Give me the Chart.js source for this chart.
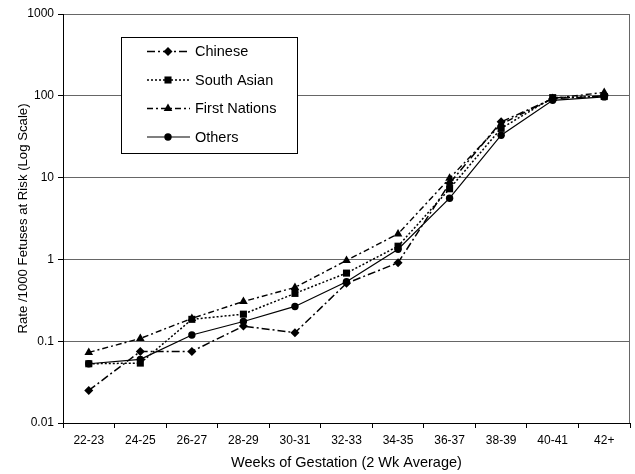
<!DOCTYPE html>
<html>
<head>
<meta charset="utf-8">
<script src="https://cdn.jsdelivr.net/npm/chart.js@4.4.0/dist/chart.umd.min.js"></script>
<style>
  body { margin: 0; background: #fff; }
  #wrap { width: 635px; height: 474px; }
</style>
</head>
<body>
<div id="wrap"><canvas id="chart" width="635" height="474"></canvas></div>
<script>
const weeks = ['22-23', '24-25', '26-27', '28-29', '30-31', '32-33', '34-35', '36-37', '38-39', '40-41', '42+'];
const chinese = [0.025, 0.075, 0.075, 0.153, 0.127, 0.51, 0.91, 8.5, 48, 92, 100];
const southAsian = [0.053, 0.054, 0.185, 0.214, 0.384, 0.68, 1.45, 7.3, 40, 95, 98];
const firstNations = [0.073, 0.108, 0.19, 0.306, 0.454, 0.97, 2.05, 9.8, 45, 93, 110];
const others = [0.053, 0.06, 0.119, 0.174, 0.266, 0.533, 1.33, 5.6, 33, 88, 97];
const yTicks = [0.01, 0.1, 1, 10, 100, 1000];
const yTickLabels = ['0.01', '0.1', '1', '10', '100', '1000'];

const FONT = "'Liberation Sans', Arial, sans-serif";
Chart.defaults.font.family = FONT;
Chart.defaults.color = '#000';

function series(label, data, dash, width, style, r) {
    return {
        label: label,
        data: data,
        borderColor: '#000',
        backgroundColor: '#000',
        borderWidth: width,
        borderDash: dash,
        pointStyle: style,
        pointRadius: r,
        pointBorderWidth: 0,
        pointBackgroundColor: '#000',
        tension: 0
    };
}

// draws one marker for the legend box
function marker(ctx, style, x, y, r) {
    ctx.beginPath();
    if (style === 'rectRot') {
        ctx.moveTo(x, y - r); ctx.lineTo(x + r, y); ctx.lineTo(x, y + r); ctx.lineTo(x - r, y);
    } else if (style === 'rect') {
        const s = r * Math.SQRT1_2;
        ctx.rect(x - s, y - s, 2 * s, 2 * s);
    } else if (style === 'triangle') {
        ctx.moveTo(x, y - r);
        ctx.lineTo(x + r * 0.866, y + r * 0.5);
        ctx.lineTo(x - r * 0.866, y + r * 0.5);
    } else {
        ctx.arc(x, y, r, 0, Math.PI * 2);
    }
    ctx.closePath();
    ctx.fill();
}

const frame = {
    id: 'frame',
    beforeDatasetsDraw(chart) {
        const a = chart.chartArea, ctx = chart.ctx;
        ctx.save();
        ctx.strokeStyle = '#666';
        ctx.lineWidth = 1;
        ctx.beginPath();
        ctx.moveTo(a.right - 0.5, a.top);
        ctx.lineTo(a.right - 0.5, a.bottom);
        ctx.stroke();
        ctx.restore();
    }
};

const boxLegend = {
    id: 'boxLegend',
    afterDraw(chart) {
        const ctx = chart.ctx;
        ctx.save();
        ctx.fillStyle = '#fff';
        ctx.fillRect(121.5, 37.5, 176, 116);
        ctx.strokeStyle = '#000';
        ctx.lineWidth = 1;
        ctx.setLineDash([]);
        ctx.strokeRect(121.5, 37.5, 176, 116);
        const rows = [51.5, 80, 108.5, 137];
        chart.data.datasets.forEach((ds, i) => {
            const y = rows[i];
            ctx.strokeStyle = '#000';
            ctx.lineWidth = ds.borderWidth;
            ctx.setLineDash(ds.borderDash || []);
            ctx.beginPath();
            ctx.moveTo(147, y);
            ctx.lineTo(190, y);
            ctx.stroke();
            ctx.setLineDash([]);
            ctx.fillStyle = '#000';
            marker(ctx, ds.pointStyle, 168, y, ds.pointRadius);
            ctx.font = '14.5px ' + FONT;
            ctx.textBaseline = 'middle';
            ctx.textAlign = 'left';
            ctx.fillText(ds.label, 195, y + 0.5);
        });
        ctx.restore();
    }
};

new Chart(document.getElementById('chart'), {
    type: 'line',
    data: {
        labels: weeks,
        datasets: [
            series('Chinese', chinese, [8, 3, 2, 3], 1.5, 'rectRot', 4.5),
            series('South Asian', southAsian, [2, 2], 1.5, 'rect', 5),
            series('First Nations', firstNations, [6, 3, 2, 3], 1.4, 'triangle', 5),
            series('Others', others, [], 1.2, 'circle', 3.7)
        ]
    },
    options: {
        responsive: false,
        animation: false,
        layout: { padding: { top: 14, right: 1, bottom: 0, left: 0 } },
        plugins: {
            legend: { display: false },
            tooltip: { enabled: false }
        },
        scales: {
            x: {
                type: 'category',
                offset: true,
                grid: { offset: true, drawOnChartArea: false, drawTicks: true, tickLength: 5, tickColor: '#000' },
                border: { color: '#000', width: 1 },
                ticks: { padding: 5, maxRotation: 0, autoSkip: false, font: { size: 12 } },
                title: {
                    display: true,
                    text: 'Weeks of Gestation (2 Wk Average)',
                    font: { size: 14.5 },
                    padding: { top: 0, bottom: 2 }
                },
                afterFit: s => { s.height = 51; }
            },
            y: {
                type: 'logarithmic',
                min: 0.01,
                max: 1000,
                afterBuildTicks: s => { s.ticks = yTicks.map(v => ({ value: v })); },
                grid: { color: '#666', tickColor: '#000', tickLength: 5 },
                border: { color: '#000', width: 1 },
                ticks: {
                    padding: 4,
                    font: { size: 12 },
                    callback: (v, i) => yTickLabels[i]
                },
                title: {
                    display: true,
                    text: 'Rate /1000 Fetuses at Risk (Log Scale)',
                    font: { size: 13.2 },
                    padding: { top: 15, bottom: 0 }
                },
                afterFit: s => { s.width = 63; }
            }
        }
    },
    plugins: [frame, boxLegend]
});
</script>
</body>
</html>
